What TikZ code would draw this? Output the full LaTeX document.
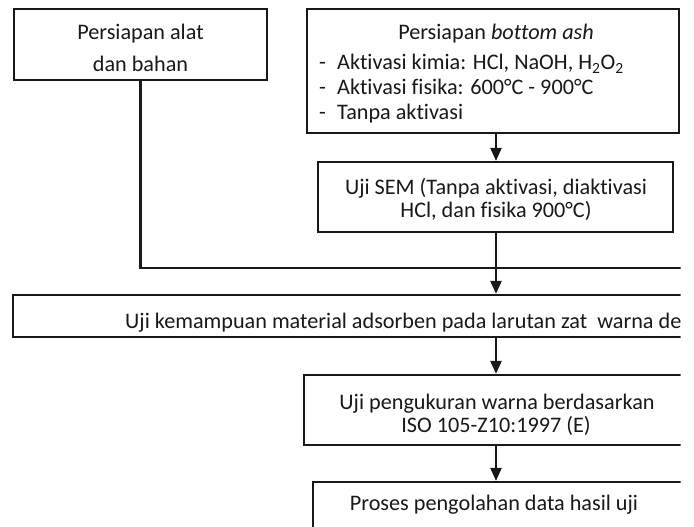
\documentclass[tikz,border=0pt]{standalone}
\usepackage{fontspec}
\setmainfont{Carlito}[Ligatures=NoCommon]
\usetikzlibrary{arrows.meta}
\tikzset{
  box/.style={draw=black!90, line width=2.2pt, rectangle, inner sep=0pt},
  txt/.style={inner sep=0pt, text=black!90, font=\fontsize{22.2}{26}\selectfont},
  conn/.style={draw=black!90, line width=2.2pt},
  arr/.style={conn, -{Triangle[width=11pt,length=13pt]}}
}
\begin{document}
\begin{tikzpicture}[x=1pt,y=-1pt]
\useasboundingbox (0,0) rectangle (694,527);
\fill[white] (0,0) rectangle (694,527);
\begin{scope}
\clip (0,0) rectangle (680.5,527);
\coordinate (ax) at (496,0);
\coordinate (cr) at (720,268);
% boxes
\node[box, minimum width=253pt, minimum height=71pt] (b1) at (140.5,44.5) {};
\node[box, minimum width=372pt, minimum height=124pt] (b2) at (493,71) {};
\node[box, minimum width=355pt, minimum height=70pt] (b3) at (495.5,197) {};
\node[box, minimum width=747pt, minimum height=42pt] (b4) at (386.5,316) {};
\node[box, minimum width=384pt, minimum height=70pt] (b5) at (496,410) {};
\node[box, minimum width=377pt, minimum height=58pt] (b6) at (501.5,511) {};
% texts
\node[txt, anchor=base] (t1a) at (140.5,40) {Persiapan alat};
\node[txt, anchor=base] (t1b) at (140.5,72) {dan bahan};
\node[txt, anchor=base] (t2a) at (496,40) {Persiapan \textit{bottom ash}};
\node[txt, anchor=base west] (t2b) at (319,70) {\makebox[18pt][l]{-}Aktivasi kimia: HCl, NaOH, H\textsubscript{2}O\textsubscript{2}};
\node[txt, anchor=base west] (t2c) at (319,95) {\makebox[18pt][l]{-}Aktivasi fisika: 600°C - 900°C};
\node[txt, anchor=base west] (t2d) at (319,119) {\makebox[18pt][l]{-}Tanpa aktivasi};
\node[txt, anchor=base] (t3a) at (496,194) {Uji SEM (Tanpa aktivasi, diaktivasi};
\node[txt, anchor=base] (t3b) at (496,217) {HCl, dan fisika 900°C)};
\node[txt, anchor=base west] (t4) at (125,328) {Uji kemampuan material adsorben pada larutan zat\ \ warna de};
\node[txt, anchor=base] (t5a) at (497,409) {Uji pengukuran warna berdasarkan};
\node[txt, anchor=base] (t5b) at (496,432) {ISO 105-Z10:1997 (E)};
\node[txt, anchor=base] (t6) at (494,510) {Proses pengolahan data hasil uji};
% connectors
\draw[arr] (b2.south -| ax) -- (b3.north -| ax);
\draw[conn] (b1.south) |- (cr);
\draw[arr] (b3.south -| ax) -- (b4.north -| ax);
\draw[arr] (b4.south -| ax) -- (b5.north -| ax);
\draw[arr] (b5.south -| ax) -- (b6.north -| ax);
\end{scope}
\end{tikzpicture}
\end{document}
